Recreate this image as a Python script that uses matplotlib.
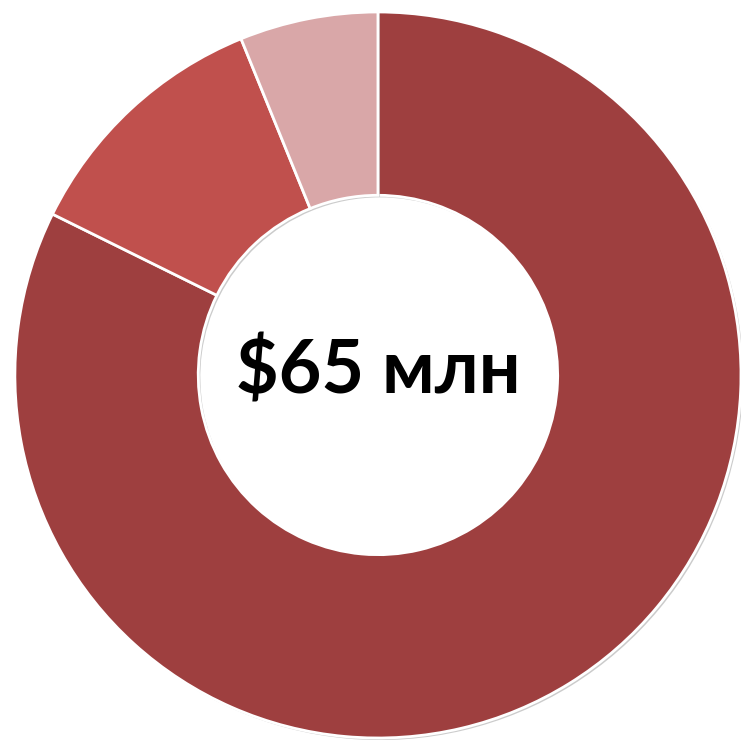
import matplotlib
matplotlib.use("Agg")
import matplotlib.pyplot as plt
import matplotlib.patheffects as pe

labels = ["A", "B", "C"]
values = [53.5, 7.5, 4.0]
colors = ["#9E3F3F", "#C0504D", "#D9A7A8"]
center_text = "$65 млн"

fig = plt.figure(figsize=(7.41, 7.40), dpi=100)
ax = fig.add_axes([0, 0, 1, 1])
wedges, _ = ax.pie(values, colors=colors, startangle=90, counterclock=False,
                   radius=1.0, wedgeprops=dict(width=0.505, edgecolor="white", linewidth=2))
for w in wedges:
    w.set_path_effects([pe.SimplePatchShadow(offset=(1.5, -1.5), shadow_rgbFace="#999999", alpha=0.5), pe.Normal()])
ax.text(0, 0.01, center_text, ha="center", va="center", fontsize=53, fontweight="bold",
        family=["Lato", "DejaVu Sans"], color="black")
ax.set_xlim(-1.041, 1.0)
ax.set_ylim(-1.0055, 1.033)
ax.set_aspect("auto")
ax.axis("off")
fig.savefig("out.png", dpi=100)
